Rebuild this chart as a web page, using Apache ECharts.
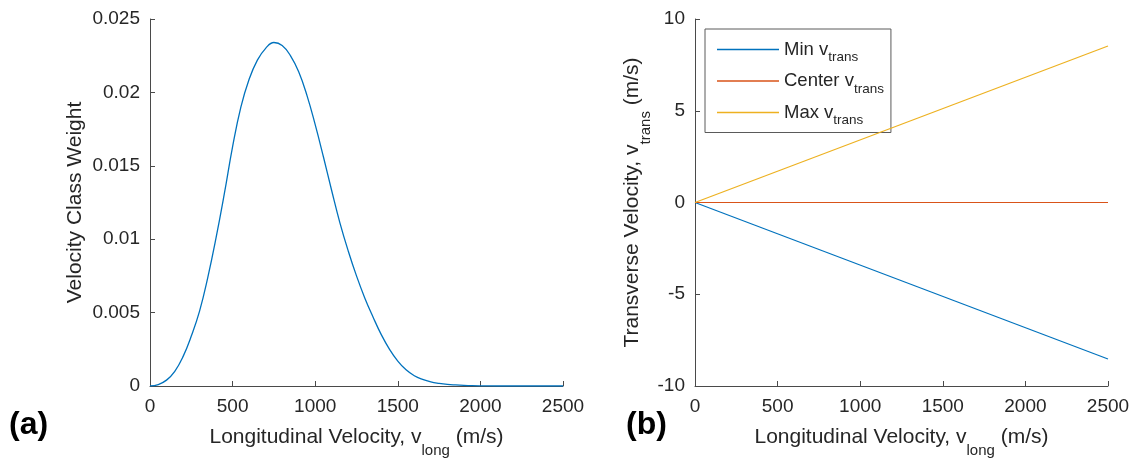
<!DOCTYPE html>
<html>
<head>
<meta charset="utf-8">
<script src="https://cdn.jsdelivr.net/npm/echarts@6/dist/echarts.min.js"></script>
<style>
  html, body { margin: 0; padding: 0; background: #ffffff; }
  #chart { width: 1133px; height: 459px; }
</style>
</head>
<body>
<div id="chart"></div>
<script>
// (a) velocity class weight versus longitudinal velocity (m/s)
const vLong = [
  0, 50, 100, 150, 200, 250, 300, 350, 400, 450,
  500, 550, 600, 650, 700, 750, 800, 850, 900, 950,
  1000, 1050, 1100, 1150, 1200, 1250, 1300, 1350, 1400, 1450,
  1500, 1550, 1600, 1650, 1700, 1750, 1800, 1850, 1900, 1950,
  2000, 2100, 2200, 2300, 2400, 2500
];
const classWeight = [
  0, 0.0001, 0.0004, 0.0010, 0.0020, 0.0034, 0.0051, 0.0074, 0.0101, 0.0131,
  0.0163, 0.0190, 0.0209, 0.0222, 0.0230, 0.0234, 0.0232, 0.0225, 0.0214, 0.0198,
  0.0178, 0.0156, 0.0133, 0.0111, 0.0092, 0.0075, 0.0060, 0.0047, 0.0035, 0.0025,
  0.0017, 0.0011, 0.0007, 0.00045, 0.00028, 0.00018, 0.00011, 0.00007, 0.00004, 0.00002,
  0.00001, 0, 0, 0, 0, 0
];

// (b) transverse velocity limits versus longitudinal velocity (m/s)
const vLongEnds = [0, 2500];
const minTrans = [0, -8.53];
const centerTrans = [0, 0];
const maxTrans = [0, 8.53];

const FONT = '"Liberation Sans", Arial, Helvetica, sans-serif';
const INK = '#262626';
const AXIS = '#4a4a4a';
const BLUE = '#0072BD', ORANGE = '#D95319', YELLOW = '#EDB120';

const pairs = (xs, ys) => xs.map((x, i) => [x, ys[i]]);
const plain = v => String(+v.toFixed(4));

const titleRich = {
  t: { fontSize: 21, color: INK, fontFamily: FONT, lineHeight: 42, verticalAlign: 'middle' },
  s: { fontSize: 15, color: INK, fontFamily: FONT, lineHeight: 15, verticalAlign: 'bottom' }
};

function xAxisFor(gridIndex) {
  return {
    type: 'value', gridIndex,
    min: 0, max: 2500, interval: 500,
    name: '{t|Longitudinal Velocity, v}{s|long}{t| (m/s)}',
    nameLocation: 'middle', nameGap: 30,
    nameTextStyle: { rich: titleRich },
    axisLine: { show: true, onZero: false, lineStyle: { color: AXIS, width: 1 } },
    axisTick: { show: true, inside: true, length: 5, lineStyle: { color: AXIS } },
    axisLabel: { color: INK, fontSize: 19, fontFamily: FONT, margin: 11, formatter: plain },
    splitLine: { show: false }
  };
}

function yAxisFor(gridIndex, min, max, interval, name, gap) {
  return {
    type: 'value', gridIndex,
    min, max, interval,
    name,
    nameLocation: 'middle', nameGap: gap, nameRotate: 90,
    nameTextStyle: { rich: titleRich },
    axisLine: { show: true, onZero: false, lineStyle: { color: AXIS, width: 1 } },
    axisTick: { show: true, inside: true, length: 5, lineStyle: { color: AXIS } },
    axisLabel: { color: INK, fontSize: 19, fontFamily: FONT, margin: 10, formatter: plain },
    splitLine: { show: false }
  };
}

const option = {
  animation: false,
  backgroundColor: '#ffffff',
  grid: [
    { left: 150, right: 570, top: 19, bottom: 73, containLabel: false, outerBoundsMode: 'none' },
    { left: 695, right: 25, top: 19, bottom: 73, containLabel: false, outerBoundsMode: 'none' }
  ],
  xAxis: [xAxisFor(0), xAxisFor(1)],
  yAxis: [
    yAxisFor(0, 0, 0.025, 0.005, '{t|Velocity Class Weight}', 54),
    yAxisFor(1, -10, 10, 5, '{t|Transverse Velocity, v}{s|trans}{t| (m/s)}', 31)
  ],
  legend: {
    orient: 'vertical',
    left: 705, top: 29,
    padding: [11, 7, 5, 12],
    icon: 'rect',
    itemWidth: 62, itemHeight: 1.5, itemGap: 7,
    borderColor: '#5a5a5a', borderWidth: 1, borderRadius: 0,
    backgroundColor: '#ffffff',
    data: ['Min', 'Center', 'Max'],
    formatter: name => '{m|' + name + ' v}{s|trans}',
    textStyle: {
      rich: {
        m: { fontSize: 18.5, color: INK, fontFamily: FONT, lineHeight: 30, verticalAlign: 'middle' },
        s: { fontSize: 13.5, color: INK, fontFamily: FONT, lineHeight: 13, verticalAlign: 'bottom' }
      }
    }
  },
  graphic: [
    { type: 'text', left: 9, top: 409, style: { text: '(a)', font: 'bold 32px ' + FONT, fill: '#000000' } },
    { type: 'text', left: 626, top: 409, style: { text: '(b)', font: 'bold 32px ' + FONT, fill: '#000000' } }
  ],
  series: [
    {
      type: 'line', xAxisIndex: 0, yAxisIndex: 0, z: 5,
      data: pairs(vLong, classWeight),
      smooth: 0.45, symbol: 'none',
      lineStyle: { color: BLUE, width: 1.3 }
    },
    {
      name: 'Min', type: 'line', xAxisIndex: 1, yAxisIndex: 1, z: 5,
      data: pairs(vLongEnds, minTrans), symbol: 'none',
      lineStyle: { color: BLUE, width: 1.2 }, itemStyle: { color: BLUE }
    },
    {
      name: 'Center', type: 'line', xAxisIndex: 1, yAxisIndex: 1, z: 5,
      data: pairs(vLongEnds, centerTrans), symbol: 'none',
      lineStyle: { color: ORANGE, width: 1.2 }, itemStyle: { color: ORANGE }
    },
    {
      name: 'Max', type: 'line', xAxisIndex: 1, yAxisIndex: 1, z: 5,
      data: pairs(vLongEnds, maxTrans), symbol: 'none',
      lineStyle: { color: YELLOW, width: 1.2 }, itemStyle: { color: YELLOW }
    }
  ]
};

const chart = echarts.init(document.getElementById('chart'), null, { renderer: 'canvas' });
chart.setOption(option);
</script>
</body>
</html>
